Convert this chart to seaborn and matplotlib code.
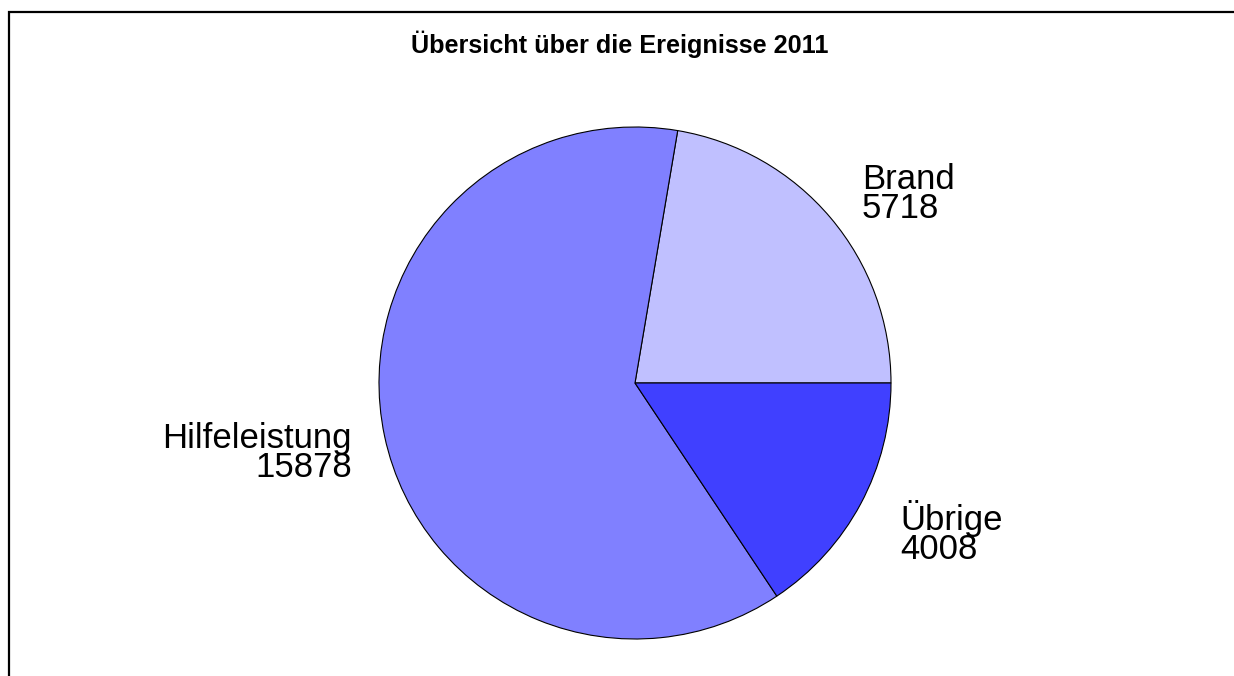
import matplotlib
matplotlib.use("Agg")
import matplotlib.pyplot as plt
import seaborn as sns
import numpy as np
from matplotlib.patches import Rectangle

categories = ["Brand", "Hilfeleistung", "Übrige"]
values = [5718, 15878, 4008]
colors = ["#C0C0FF", "#8080FF", "#4040FF"]
title = "Übersicht über die Ereignisse 2011"

sns.set_theme(style="white")
plt.rcParams['font.family'] = ['Liberation Sans', 'DejaVu Sans']

W, H = 1234, 676
fig = plt.figure(figsize=(W / 100, H / 100), dpi=100)
fig.patch.set_facecolor("white")

cx, cy, r = 635, 383, 256
ax = fig.add_axes([(cx - r) / W, (H - cy - r) / H, 2 * r / W, 2 * r / H])
wedges, _ = ax.pie(values, colors=colors, startangle=0, counterclock=True,
                   radius=1, wedgeprops=dict(edgecolor="black", linewidth=0.8))
ax.set_xlim(-1, 1)
ax.set_ylim(-1, 1)
ax.set_aspect("equal")
ax.axis("off")

# label placement (relative to pie centre, in radius units)
label_pos = {
    "Brand": (0.887, 0.74, "left"),
    "Hilfeleistung": (-1.105, -0.275, "right"),
    "Übrige": (1.035, -0.585, "left"),
}
for cat, val in zip(categories, values):
    x, y, ha = label_pos[cat]
    ax.text(x, y, f"{cat}\n{val}", ha=ha, va="center", fontsize=25,
            linespacing=0.85, multialignment=ha, color="black", clip_on=False)

fig.text(620 / W, 1 - 44 / H, title, ha="center", va="center",
         fontsize=18.2, fontweight="bold", color="black")

# frame (top and left edges visible)
fig.add_artist(Rectangle((9 / W, -0.2), 1.5, 1.2 - 12 / H,
                         transform=fig.transFigure, fill=False,
                         edgecolor="black", linewidth=1.6))

fig.savefig("out.png", dpi=100, facecolor="white")
